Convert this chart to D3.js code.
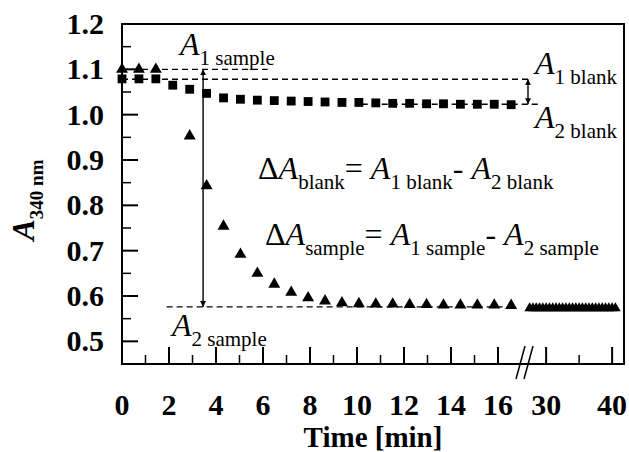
<!DOCTYPE html>
<html>
<head>
<meta charset="utf-8">
<script src="https://cdn.jsdelivr.net/npm/d3@7"></script>
<style>
	body { margin: 0; background: #fff; }
	svg { display: block; }
	text { font-family: "Liberation Serif", "Times New Roman", serif; fill: #000; }
	.tick-label { font-weight: bold; font-size: 30px; }
</style>
</head>
<body>
<div id="chart"></div>
<script>
/* global d3 */

// Time points [min] of the first (0-17 min) part
var times = [0, 0.72, 1.44, 2.16, 2.88, 3.6, 4.32, 5.04, 5.76, 6.48, 7.2, 7.92,
	8.64, 9.36, 10.08, 10.8, 11.52, 12.24, 12.96, 13.68, 14.4, 15.12, 15.84, 16.56];

// Blank (squares)
var blankValues = [1.079, 1.079, 1.079, 1.065, 1.056, 1.047, 1.037, 1.034, 1.032, 1.031,
	1.030, 1.029, 1.028, 1.027, 1.027, 1.026, 1.025, 1.025, 1.024, 1.024, 1.023, 1.023,
	1.023, 1.022];

// Sample (triangles), null = no reading
var sampleValues = [1.100, 1.100, 1.100, null, 0.953, 0.843, 0.754, 0.692, 0.650, 0.626,
	0.608, 0.596, 0.589, 0.585, 0.583, 0.582, 0.582, 0.581, 0.581, 0.580, 0.580, 0.580,
	0.580, 0.579];

// Sample, late part (28-40 min)
var lateTimes = [27.5, 28, 28.5, 29, 29.5, 30, 30.5, 31, 31.5, 32, 32.5, 33, 33.5, 34,
	34.5, 35, 35.5, 36, 36.5, 37, 37.5, 38, 38.5, 39, 39.5, 40, 40.5];
var lateValues = [0.573, 0.573, 0.573, 0.573, 0.573, 0.573, 0.573, 0.573, 0.573, 0.573,
	0.573, 0.573, 0.573, 0.573, 0.573, 0.573, 0.573, 0.573, 0.573, 0.573, 0.573, 0.573,
	0.573, 0.573, 0.573, 0.573, 0.573];

// Tick labels
var yTicks = [0.5, 0.6, 0.7, 0.8, 0.9, 1.0, 1.1, 1.2];
var yMinorTicks = [0.55, 0.65, 0.75, 0.85, 0.95, 1.05, 1.15];
var xTicksLeft = [0, 2, 4, 6, 8, 10, 12, 14, 16];
var xMinorLeft = [1, 3, 5, 7, 9, 11, 13, 15];
var xTicksRight = [30, 40];
var xMinorRight = [35];

// Reference levels: A1 sample, A1 blank, A2 blank, A2 sample
var levelA1Sample = 1.100;
var levelA1Blank = 1.078;
var levelA2Blank = 1.023;
var levelA2Sample = 0.576;

(function() {

	var W = 629, H = 452;
	var frame = { left: 122, right: 624, top: 24, bottom: 364 };

	var y = d3.scaleLinear().domain([0.45, 1.2]).range([frame.bottom, frame.top]);
	var xL = d3.scaleLinear().domain([0, 17]).range([frame.left, 521.5]);
	var xR = d3.scaleLinear().domain([27.1, 41.8]).range([527, frame.right]);

	var svg = d3.select('#chart').append('svg')
		.attr('width', W)
		.attr('height', H);

	// Frame
	svg.append('rect')
		.attr('x', frame.left)
		.attr('y', frame.top)
		.attr('width', frame.right - frame.left)
		.attr('height', frame.bottom - frame.top)
		.attr('fill', 'none')
		.attr('stroke', '#000')
		.attr('stroke-width', 2);

	// y ticks (inside)
	var gY = svg.append('g');
	gY.selectAll('line.major').data(yTicks).enter().append('line')
		.attr('x1', frame.left).attr('x2', frame.left + 16)
		.attr('y1', function(d) { return y(d); })
		.attr('y2', function(d) { return y(d); })
		.attr('stroke', '#000').attr('stroke-width', 2);
	gY.selectAll('line.minor').data(yMinorTicks).enter().append('line')
		.attr('x1', frame.left).attr('x2', frame.left + 9)
		.attr('y1', function(d) { return y(d); })
		.attr('y2', function(d) { return y(d); })
		.attr('stroke', '#000').attr('stroke-width', 1.5);
	gY.selectAll('text').data(yTicks).enter().append('text')
		.attr('class', 'tick-label')
		.attr('x', 104)
		.attr('y', function(d) { return y(d); })
		.attr('dy', '0.33em')
		.attr('text-anchor', 'end')
		.text(function(d) { return d.toFixed(1); });

	// x ticks (inside, pointing up)
	function xTicks(scale, majors, minors) {
		var g = svg.append('g');
		g.selectAll('line.major').data(majors).enter().append('line')
			.attr('x1', function(d) { return scale(d); })
			.attr('x2', function(d) { return scale(d); })
			.attr('y1', frame.bottom).attr('y2', frame.bottom - 17)
			.attr('stroke', '#000').attr('stroke-width', 2);
		g.selectAll('line.minor').data(minors).enter().append('line')
			.attr('x1', function(d) { return scale(d); })
			.attr('x2', function(d) { return scale(d); })
			.attr('y1', frame.bottom).attr('y2', frame.bottom - 9)
			.attr('stroke', '#000').attr('stroke-width', 1.5);
		g.selectAll('text').data(majors).enter().append('text')
			.attr('class', 'tick-label')
			.attr('x', function(d) { return scale(d); })
			.attr('y', 415)
			.attr('text-anchor', 'middle')
			.text(function(d) { return d; });
	}
	xTicks(xL, xTicksLeft, xMinorLeft);
	xTicks(xR, xTicksRight, xMinorRight);

	// Axis break marks
	var gBreak = svg.append('g').attr('stroke', '#000').attr('stroke-width', 1.5);
	gBreak.append('line').attr('x1', 516).attr('y1', 379).attr('x2', 525).attr('y2', 346);
	gBreak.append('line').attr('x1', 524).attr('y1', 379).attr('x2', 533).attr('y2', 346);

	// Axis titles
	var yTitle = svg.append('text')
		.attr('transform', 'translate(34,200) rotate(-90)')
		.attr('text-anchor', 'middle')
		.style('font-weight', 'bold');
	yTitle.append('tspan').style('font-style', 'italic').style('font-size', '32px').text('A');
	yTitle.append('tspan').style('font-size', '19px').attr('dy', 9).text('340 nm');

	svg.append('text')
		.attr('x', 373)
		.attr('y', 447)
		.attr('text-anchor', 'middle')
		.style('font-weight', 'bold')
		.style('font-size', '29px')
		.text('Time [min]');

	// Dashed reference lines
	var gDash = svg.append('g')
		.attr('stroke', '#000')
		.attr('stroke-width', 1.4)
		.attr('stroke-dasharray', '6,4');
	function hdash(v, x1, x2) {
		gDash.append('line')
			.attr('x1', x1).attr('x2', x2)
			.attr('y1', y(v)).attr('y2', y(v));
	}
	hdash(levelA1Sample, xL(0), xL(6.2));
	hdash(levelA1Blank, xL(0), 532);
	hdash(levelA2Blank, xL(10.2), 540);
	hdash(levelA2Sample, xL(1.9), xL(16.6));

	// Arrows
	var defs = svg.append('defs');
	defs.append('marker')
		.attr('id', 'ah')
		.attr('viewBox', '0 0 10 10')
		.attr('refX', 10).attr('refY', 5)
		.attr('markerWidth', 6).attr('markerHeight', 7)
		.attr('markerUnits', 'userSpaceOnUse')
		.attr('orient', 'auto-start-reverse')
		.append('path').attr('d', 'M0,0L10,5L0,10z').attr('fill', '#000');

	svg.append('line')
		.attr('x1', xL(3.45)).attr('x2', xL(3.45))
		.attr('y1', y(levelA1Sample)).attr('y2', y(levelA2Sample))
		.attr('stroke', '#000').attr('stroke-width', 1.4)
		.attr('marker-start', 'url(#ah)').attr('marker-end', 'url(#ah)');
	svg.append('line')
		.attr('x1', 528).attr('x2', 528)
		.attr('y1', y(levelA1Blank)).attr('y2', y(levelA2Blank))
		.attr('stroke', '#000').attr('stroke-width', 1.4)
		.attr('marker-start', 'url(#ah)').attr('marker-end', 'url(#ah)');

	// Markers
	var square = d3.symbol().type(d3.symbolSquare).size(78);
	var tri = d3.symbol().type(d3.symbolTriangle).size(62);
	var triSmall = d3.symbol().type(d3.symbolTriangle).size(48);

	svg.append('g').selectAll('path').data(times).enter().append('path')
		.attr('d', square)
		.attr('transform', function(d, i) {
			return 'translate(' + xL(d) + ',' + y(blankValues[i]) + ')';
		});

	var sampleData = times.map(function(t, i) { return { t: t, v: sampleValues[i] }; })
		.filter(function(d) { return d.v !== null; });
	svg.append('g').selectAll('path').data(sampleData).enter().append('path')
		.attr('d', tri)
		.attr('transform', function(d) {
			return 'translate(' + xL(d.t) + ',' + y(d.v) + ')';
		});

	svg.append('g').selectAll('path').data(lateTimes).enter().append('path')
		.attr('d', triSmall)
		.attr('transform', function(d, i) {
			return 'translate(' + xR(d) + ',' + y(lateValues[i]) + ')';
		});

	// Rich text helper: parts = [[text, kind]], kind: 'A' italic, 'op' upright, 'sub'
	function rich(x, yy, parts, sizes) {
		var t = svg.append('text').attr('x', x).attr('y', yy);
		var cur = 0;
		parts.forEach(function(p) {
			var off = p[1] === 'sub' ? sizes.shift : 0;
			var ts = t.append('tspan').attr('dy', off - cur).text(p[0]);
			cur = off;
			if (p[1] === 'sub') {
				ts.style('font-size', sizes.sub + 'px');
			} else {
				ts.style('font-size', sizes.main + 'px');
				if (p[1] === 'A') ts.style('font-style', 'italic');
			}
		});
		return t;
	}
	var lab = { main: 32, sub: 21, shift: 10 };
	rich(180, 55, [['A', 'A'], ['1 sample', 'sub']], lab);
	rich(535, 74, [['A', 'A'], ['1 blank', 'sub']], lab);
	rich(535, 128, [['A', 'A'], ['2 blank', 'sub']], lab);
	rich(172, 336, [['A', 'A'], ['2 sample', 'sub']], lab);

	rich(258, 179, [['\u0394', 'op'], ['A', 'A'], ['blank', 'sub'], ['= ', 'op'],
		['A', 'A'], ['1 blank', 'sub'], ['- ', 'op'], ['A', 'A'], ['2 blank', 'sub']], lab);
	rich(265, 245, [['\u0394', 'op'], ['A', 'A'], ['sample', 'sub'], ['= ', 'op'],
		['A', 'A'], ['1 sample', 'sub'], ['- ', 'op'], ['A', 'A'], ['2 sample', 'sub']], lab);

})();
</script>
</body>
</html>
